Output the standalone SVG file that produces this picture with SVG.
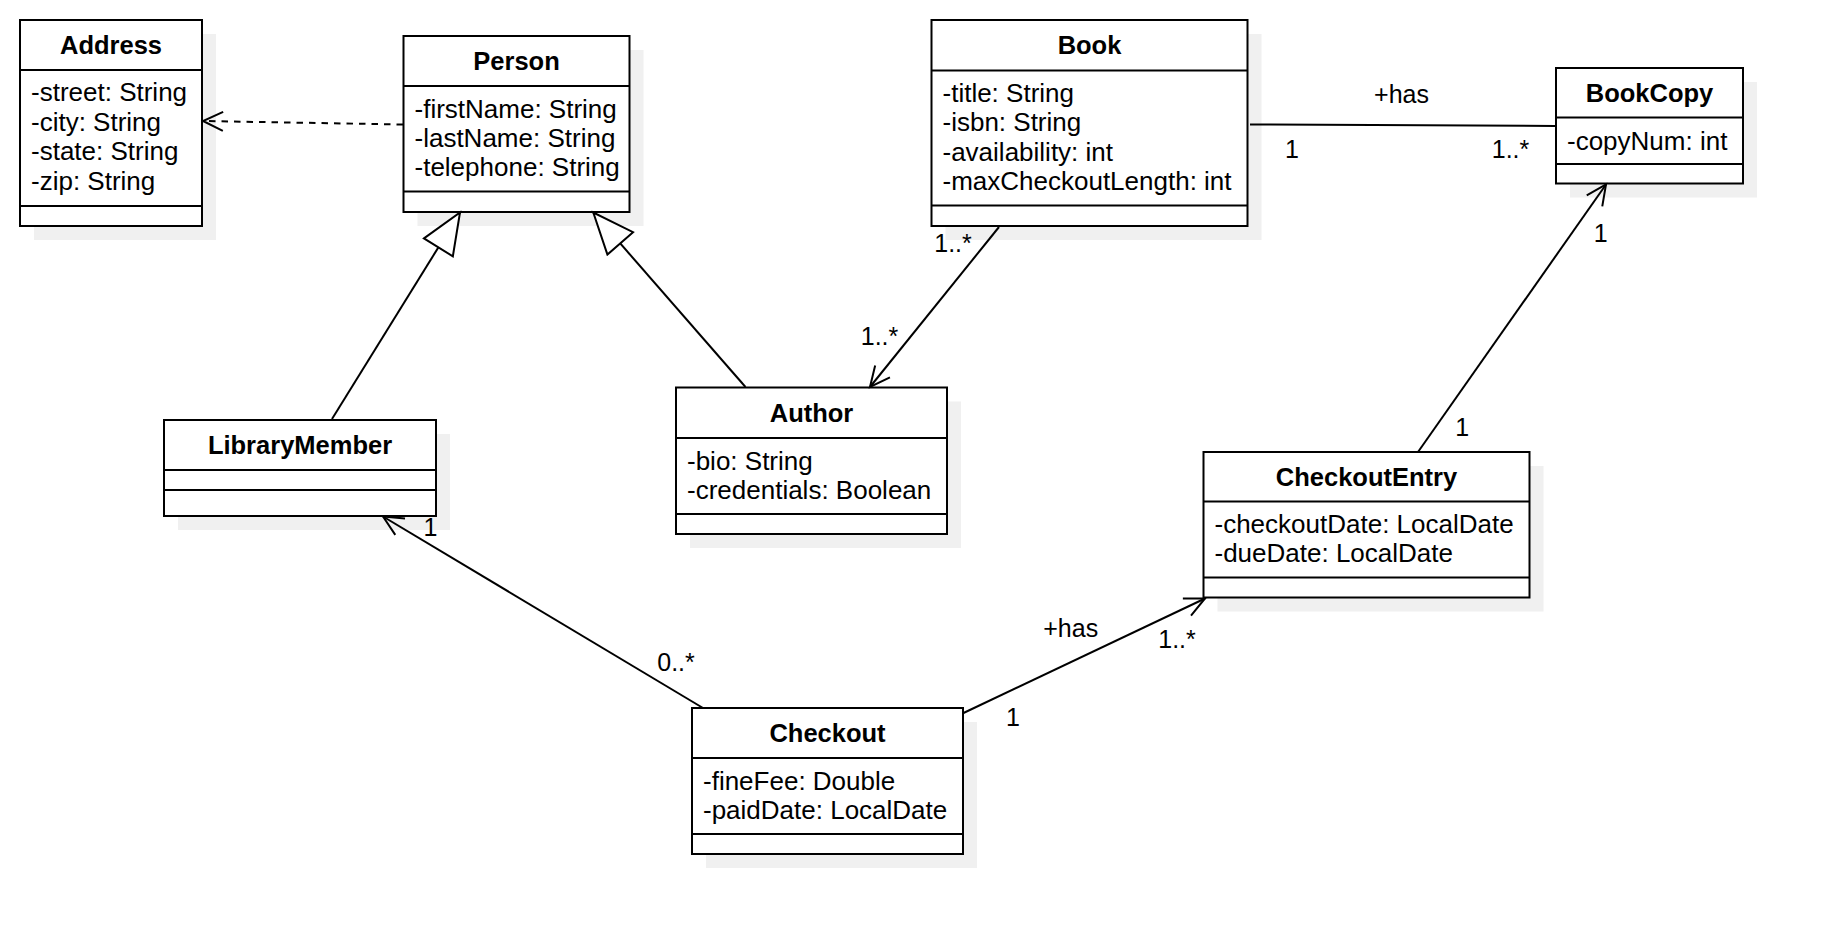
<svg xmlns="http://www.w3.org/2000/svg" width="1824" height="934" viewBox="0 0 1824 934">
<style>
.shadow{fill:#f0f0f0;stroke:none}
.box{fill:#ffffff;stroke:#000000;stroke-width:2}
.sep{stroke:#000000;stroke-width:2}
.title{font-family:"Liberation Sans",Arial,sans-serif;font-size:25.5px;font-weight:bold;fill:#000;text-anchor:middle}
.attr{font-family:"Liberation Sans",Arial,sans-serif;font-size:26px;fill:#000}
.lbl{font-family:"Liberation Sans",Arial,sans-serif;font-size:25px;fill:#000;text-anchor:middle}
.edge{fill:none;stroke:#000;stroke-width:2}
.dash{stroke-dasharray:6.5 6}
</style>
<defs>
<marker id="open" markerUnits="userSpaceOnUse" markerWidth="22" markerHeight="21" viewBox="0 0 22 21" refX="21" refY="10.5" orient="auto" overflow="visible">
<path d="M1,1 L21,10.5 L1,20" fill="none" stroke="#000" stroke-width="2"/>
</marker>
<marker id="tri" markerUnits="userSpaceOnUse" markerWidth="45" markerHeight="38" viewBox="0 0 45 38" refX="43" refY="19" orient="auto" overflow="visible">
<path d="M2,2 L43,19 L2,36 Z" fill="#fff" stroke="#000" stroke-width="2"/>
</marker>
</defs>
<rect width="1824" height="934" fill="#ffffff"/>

<g id="Address">
<rect class="shadow" x="34" y="34" width="182" height="206"/>
<rect class="box" x="20" y="20" width="182" height="206"/>
<line class="sep" x1="20" y1="70" x2="202" y2="70"/>
<line class="sep" x1="20" y1="206" x2="202" y2="206"/>
<text class="title" x="111" y="54">Address</text>
<text class="attr" x="31" y="101">-street: String</text>
<text class="attr" x="31" y="130.5">-city: String</text>
<text class="attr" x="31" y="160">-state: String</text>
<text class="attr" x="31" y="189.5">-zip: String</text>
</g>

<g id="Person">
<rect class="shadow" x="417.5" y="50" width="226" height="176"/>
<rect class="box" x="403.5" y="36" width="226" height="176"/>
<line class="sep" x1="403.5" y1="86" x2="629.5" y2="86"/>
<line class="sep" x1="403.5" y1="191.5" x2="629.5" y2="191.5"/>
<text class="title" x="516.5" y="70">Person</text>
<text class="attr" x="414.5" y="117.5">-firstName: String</text>
<text class="attr" x="414.5" y="146.5">-lastName: String</text>
<text class="attr" x="414.5" y="175.5">-telephone: String</text>
</g>

<g id="Book">
<rect class="shadow" x="945.5" y="34" width="316" height="206"/>
<rect class="box" x="931.5" y="20" width="316" height="206"/>
<line class="sep" x1="931.5" y1="70.5" x2="1247.5" y2="70.5"/>
<line class="sep" x1="931.5" y1="205.5" x2="1247.5" y2="205.5"/>
<text class="title" x="1089.5" y="54">Book</text>
<text class="attr" x="942.5" y="101.5">-title: String</text>
<text class="attr" x="942.5" y="131">-isbn: String</text>
<text class="attr" x="942.5" y="160.5">-availability: int</text>
<text class="attr" x="942.5" y="190">-maxCheckoutLength: int</text>
</g>

<g id="BookCopy">
<rect class="shadow" x="1570" y="82" width="187" height="115.5"/>
<rect class="box" x="1556" y="68" width="187" height="115.5"/>
<line class="sep" x1="1556" y1="117.5" x2="1743" y2="117.5"/>
<line class="sep" x1="1556" y1="164" x2="1743" y2="164"/>
<text class="title" x="1649.5" y="101.75">BookCopy</text>
<text class="attr" x="1567" y="149.75">-copyNum: int</text>
</g>

<g id="LibraryMember">
<rect class="shadow" x="178" y="434" width="272" height="96"/>
<rect class="box" x="164" y="420" width="272" height="96"/>
<line class="sep" x1="164" y1="470" x2="436" y2="470"/>
<line class="sep" x1="164" y1="490" x2="436" y2="490"/>
<text class="title" x="300" y="454">LibraryMember</text>
</g>

<g id="Author">
<rect class="shadow" x="690" y="401.5" width="271" height="146.5"/>
<rect class="box" x="676" y="387.5" width="271" height="146.5"/>
<line class="sep" x1="676" y1="438" x2="947" y2="438"/>
<line class="sep" x1="676" y1="514" x2="947" y2="514"/>
<text class="title" x="811.5" y="421.75">Author</text>
<text class="attr" x="687" y="469.5">-bio: String</text>
<text class="attr" x="687" y="498.5">-credentials: Boolean</text>
</g>

<g id="CheckoutEntry">
<rect class="shadow" x="1217.5" y="466" width="326" height="145.5"/>
<rect class="box" x="1203.5" y="452" width="326" height="145.5"/>
<line class="sep" x1="1203.5" y1="501.5" x2="1529.5" y2="501.5"/>
<line class="sep" x1="1203.5" y1="577.5" x2="1529.5" y2="577.5"/>
<text class="title" x="1366.5" y="485.75">CheckoutEntry</text>
<text class="attr" x="1214.5" y="533">-checkoutDate: LocalDate</text>
<text class="attr" x="1214.5" y="562">-dueDate: LocalDate</text>
</g>

<g id="Checkout">
<rect class="shadow" x="706" y="722" width="271" height="146"/>
<rect class="box" x="692" y="708" width="271" height="146"/>
<line class="sep" x1="692" y1="758" x2="963" y2="758"/>
<line class="sep" x1="692" y1="834" x2="963" y2="834"/>
<text class="title" x="827.5" y="742">Checkout</text>
<text class="attr" x="703" y="789.5">-fineFee: Double</text>
<text class="attr" x="703" y="818.5">-paidDate: LocalDate</text>
</g>

<g id="connectors">
<path class="edge dash" d="M403,124.5 L203,121" marker-end="url(#open)"/>
<path class="edge" d="M332,419 L460,212.5" marker-end="url(#tri)"/>
<path class="edge" d="M745.5,387 L593.3,212.5" marker-end="url(#tri)"/>
<path class="edge" d="M999,227 L870,387" marker-end="url(#open)"/>
<path class="edge" d="M1250,124.5 L1555,126"/>
<path class="edge" d="M1418,452 L1606,184.5" marker-end="url(#open)"/>
<path class="edge" d="M703,708 L383,516.5" marker-end="url(#open)"/>
<path class="edge" d="M963.5,713 L1205,598.5" marker-end="url(#open)"/>
<text class="lbl" x="1401.5" y="103">+has</text>
<text class="lbl" x="1292" y="157.5">1</text>
<text class="lbl" x="1510.5" y="158">1..*</text>
<text class="lbl" x="953" y="252">1..*</text>
<text class="lbl" x="879.5" y="345">1..*</text>
<text class="lbl" x="1600.7" y="241.7">1</text>
<text class="lbl" x="1462.3" y="436">1</text>
<text class="lbl" x="430.5" y="536">1</text>
<text class="lbl" x="676" y="670.5">0..*</text>
<text class="lbl" x="1070.7" y="637.2">+has</text>
<text class="lbl" x="1177" y="647.5">1..*</text>
<text class="lbl" x="1013" y="726.3">1</text>
</g>
</svg>
